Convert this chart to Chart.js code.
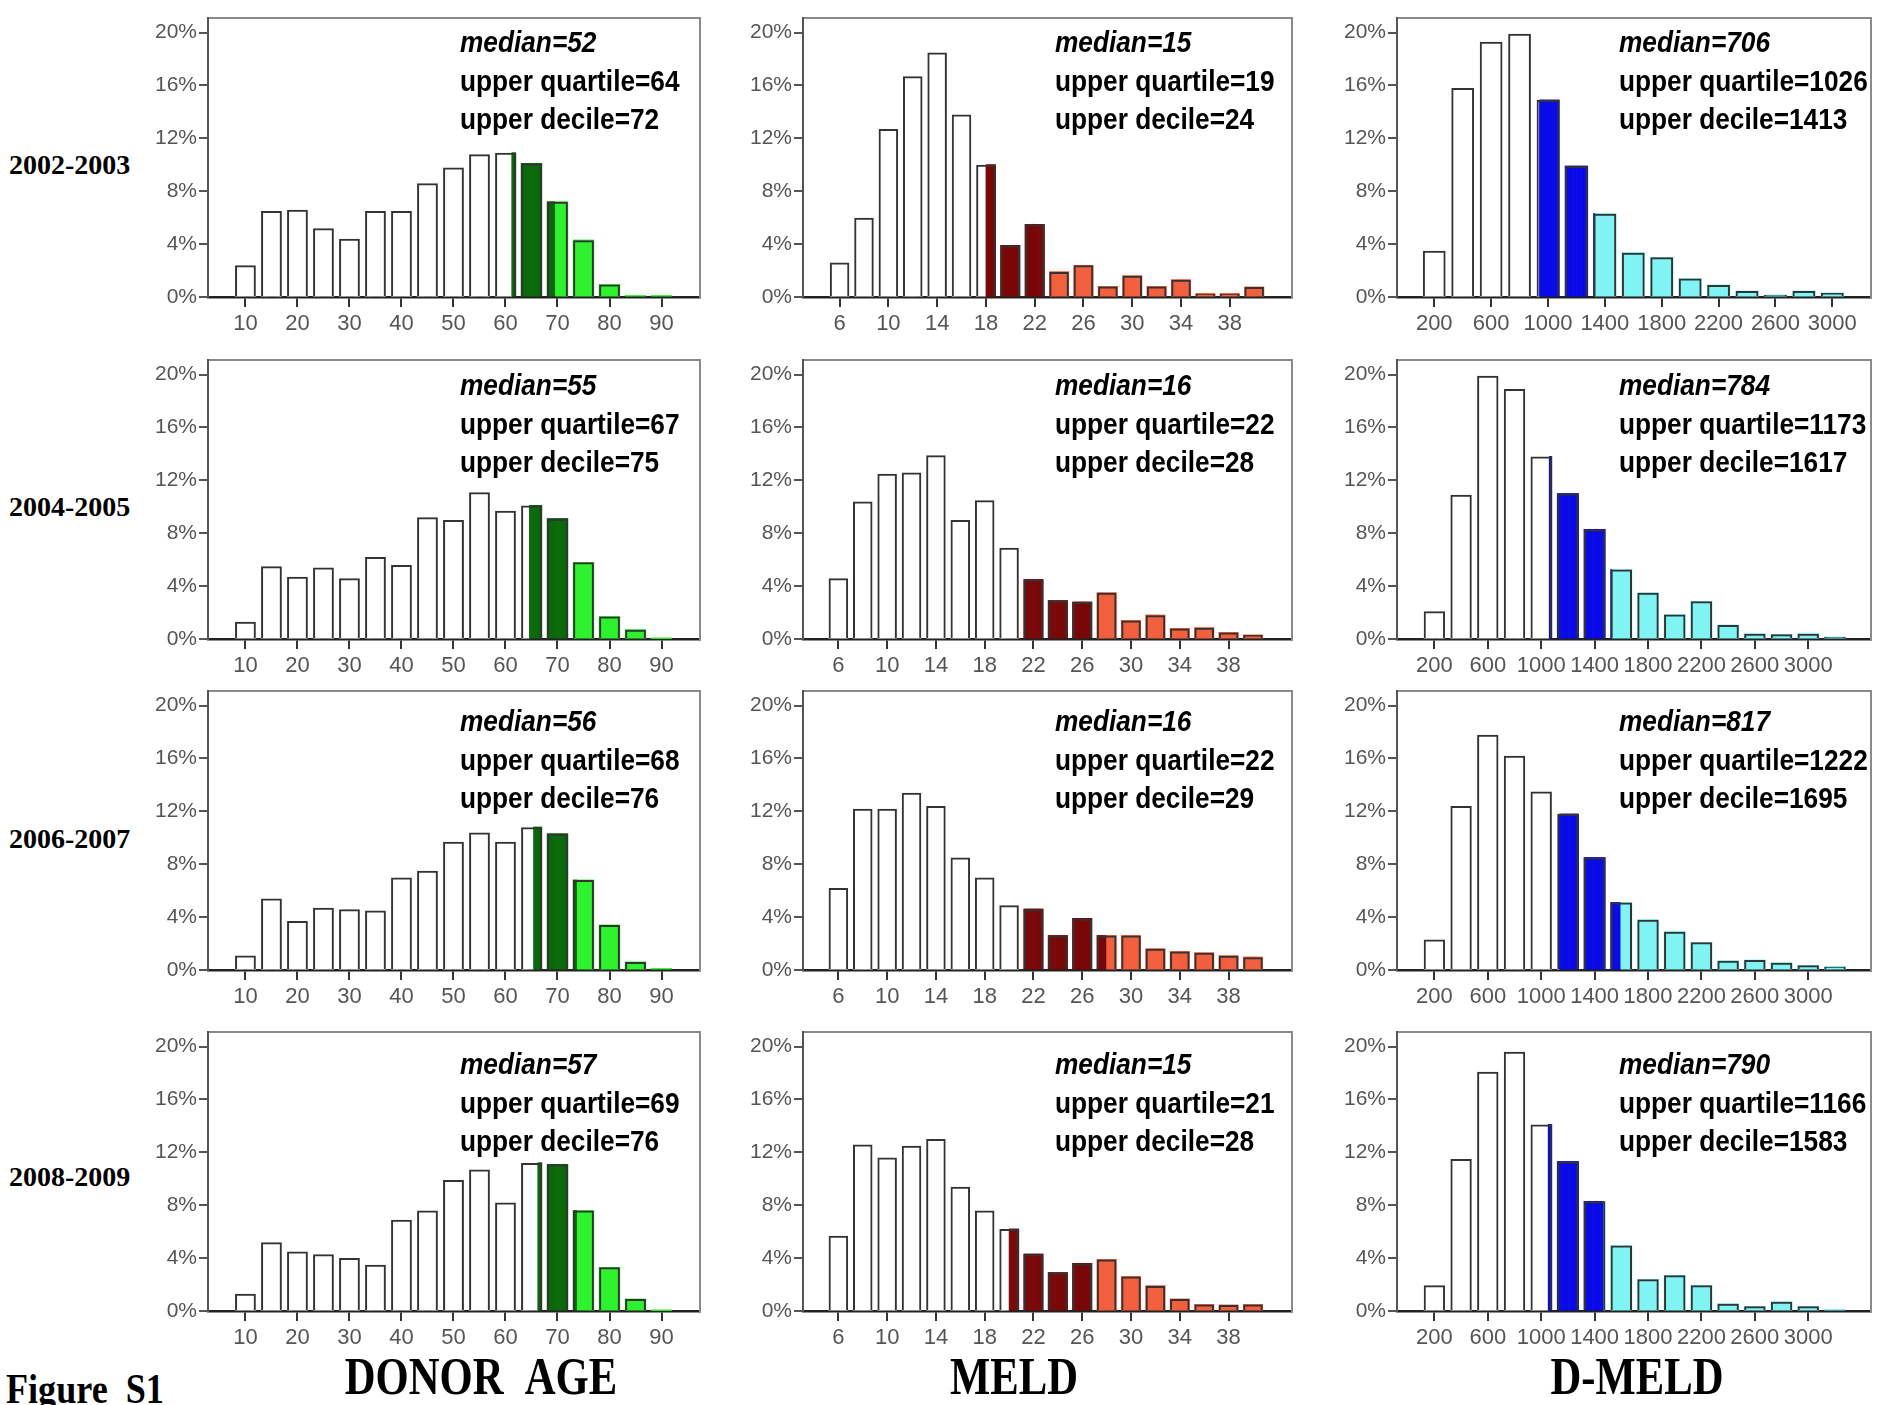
<!DOCTYPE html>
<html>
<head>
<meta charset="utf-8">
<script src="https://cdn.jsdelivr.net/npm/chart.js@4.4.1/dist/chart.umd.min.js"></script>
<style>
html,body{margin:0;padding:0;background:#fff;overflow:hidden;}
#fig{position:relative;width:1891px;height:1405px;background:#fff;overflow:hidden;}
.panel{position:absolute;}
.panel canvas{display:block;}
.ann{position:absolute;font-family:"Liberation Sans",Arial,sans-serif;font-weight:bold;font-size:30px;line-height:38.6px;color:#000;transform:scaleX(0.875);transform-origin:0 0;white-space:nowrap;}
.ann .m{font-style:italic;}
.rowlab{position:absolute;left:9px;font-family:"Liberation Serif","Times New Roman",serif;font-weight:bold;font-size:28px;line-height:28px;color:#000;white-space:nowrap;transform:translateY(-50%);}
.coltitle{position:absolute;font-family:"Liberation Serif","Times New Roman",serif;font-weight:bold;font-size:52px;line-height:52px;color:#000;white-space:nowrap;transform:translate(-50%,-50%) scaleX(0.82);}
.figlab{position:absolute;left:6px;font-family:"Liberation Serif","Times New Roman",serif;font-weight:bold;font-size:42px;line-height:42px;color:#000;white-space:nowrap;transform:translateY(-50%) scaleX(0.86);transform-origin:0 50%;}
</style>
</head>
<body>
<div id="fig"></div>
<script>
// ---------- data ----------
const YEARS = ['2002-2003', '2004-2005', '2006-2007', '2008-2009'];
const COLUMN_TITLES = ['DONOR\u00a0\u00a0AGE', 'MELD', 'D-MELD'];
const Y_TICKS = [0, 4, 8, 12, 16, 20];

// Donor age (bins of 5 years)
const AGE_BINS = [10, 15, 20, 25, 30, 35, 40, 45, 50, 55, 60, 65, 70, 75, 80, 85, 90];
const AGE_TICKS = [10, 20, 30, 40, 50, 60, 70, 80, 90];
const AGE_2002 = [2.4, 6.5, 6.6, 5.2, 4.4, 6.5, 6.5, 8.6, 9.8, 10.8, 10.9, 10.1, 7.2, 4.3, 0.95, 0.1, 0.1];
const AGE_2004 = [1.3, 5.5, 4.7, 5.4, 4.6, 6.2, 5.6, 9.2, 9.0, 11.1, 9.7, 10.1, 9.1, 5.8, 1.7, 0.7, 0.05];
const AGE_2006 = [1.1, 5.4, 3.7, 4.7, 4.6, 4.5, 7.0, 7.5, 9.7, 10.4, 9.7, 10.8, 10.3, 6.8, 3.4, 0.6, 0.1];
const AGE_2008 = [1.3, 5.2, 4.5, 4.3, 4.0, 3.5, 6.9, 7.6, 9.9, 10.7, 8.2, 11.2, 11.1, 7.6, 3.3, 0.9, 0.05];
// [median, upper quartile, upper decile]
const AGE_STATS = [[52, 64, 72], [55, 67, 75], [56, 68, 76], [57, 69, 76]];

// MELD (bins of 2 points)
const MELD_BINS = [6, 8, 10, 12, 14, 16, 18, 20, 22, 24, 26, 28, 30, 32, 34, 36, 38, 40];
const MELD_TICKS = [6, 10, 14, 18, 22, 26, 30, 34, 38];
const MELD_2002 = [2.6, 6.0, 12.7, 16.7, 18.5, 13.8, 10.0, 3.9, 5.5, 1.9, 2.4, 0.8, 1.6, 0.8, 1.3, 0.25, 0.25, 0.75];
const MELD_2004 = [4.6, 10.4, 12.5, 12.6, 13.9, 9.0, 10.5, 6.9, 4.5, 2.9, 2.8, 3.5, 1.4, 1.8, 0.8, 0.85, 0.5, 0.3];
const MELD_2006 = [6.2, 12.2, 12.2, 13.4, 12.4, 8.5, 7.0, 4.9, 4.6, 2.6, 3.9, 2.6, 2.6, 1.6, 1.4, 1.3, 1.07, 0.97];
const MELD_2008 = [5.7, 12.6, 11.6, 12.5, 13.0, 9.4, 7.6, 6.2, 4.3, 2.9, 3.6, 3.9, 2.6, 1.9, 0.9, 0.5, 0.45, 0.5];
const MELD_STATS = [[15, 19, 24], [16, 22, 28], [16, 22, 29], [15, 21, 28]];

// D-MELD (bins of 200)
const DMELD_BINS_2002 = [200, 400, 600, 800, 1000, 1200, 1400, 1600, 1800, 2000, 2200, 2400, 2600, 2800, 3000];
const DMELD_BINS = [200, 400, 600, 800, 1000, 1200, 1400, 1600, 1800, 2000, 2200, 2400, 2600, 2800, 3000, 3200];
const DMELD_TICKS = [200, 600, 1000, 1400, 1800, 2200, 2600, 3000];
const DMELD_2002 = [3.5, 15.8, 19.3, 19.9, 14.9, 9.9, 6.3, 3.35, 3.0, 1.4, 0.9, 0.45, 0.15, 0.45, 0.3];
const DMELD_2004 = [2.1, 10.9, 19.9, 18.9, 13.8, 11.0, 8.3, 5.25, 3.5, 1.85, 2.85, 1.05, 0.4, 0.35, 0.4, 0.15];
const DMELD_2006 = [2.3, 12.4, 17.8, 16.2, 13.5, 11.8, 8.5, 5.1, 3.8, 2.9, 2.1, 0.7, 0.75, 0.55, 0.35, 0.25];
const DMELD_2008 = [1.95, 11.5, 18.1, 19.6, 14.1, 11.3, 8.3, 4.95, 2.4, 2.7, 1.95, 0.55, 0.35, 0.7, 0.35, 0.1];
const DMELD_STATS = [[706, 1026, 1413], [784, 1173, 1617], [817, 1222, 1695], [790, 1166, 1583]];

// ---------- layout / style ----------
const COL_LEFT = [208, 803, 1397];
const COL_W = [492, 489, 474];
const ROW_TOP = [18, 360, 691, 1032];
const FRAME_H = 279;
const AXIS_W = 70, AXIS_H = 50, PAD_TOP = 16, PAD_RIGHT = 12;
const ANN_LEFT = [460, 1055, 1619];
const ANN_TOP = [23, 366, 702, 1045];
const ROW_LABEL_Y = [165, 507, 839, 1177];
const TITLE_X = [481, 1014, 1637];
const TITLE_Y = 1377;

const COLUMNS = [
  {bins: [AGE_BINS, AGE_BINS, AGE_BINS, AGE_BINS], values: [AGE_2002, AGE_2004, AGE_2006, AGE_2008],
   stats: AGE_STATS, width: 5, ticks: AGE_TICKS, range: [[2.8, 97.4], [2.8, 97.4], [2.8, 97.4], [2.8, 97.4]],
   dark: '#0b6a0b', light: '#2ef22e'},
  {bins: [MELD_BINS, MELD_BINS, MELD_BINS, MELD_BINS], values: [MELD_2002, MELD_2004, MELD_2006, MELD_2008],
   stats: MELD_STATS, width: 2, ticks: MELD_TICKS, range: [[3.0, 43.1], [3.1, 43.2], [3.1, 43.2], [3.1, 43.2]],
   dark: '#7a0808', light: '#f2603e'},
  {bins: [DMELD_BINS_2002, DMELD_BINS, DMELD_BINS, DMELD_BINS], values: [DMELD_2002, DMELD_2004, DMELD_2006, DMELD_2008],
   stats: DMELD_STATS, width: 200, ticks: DMELD_TICKS, range: [[-62, 3272], [-80, 3470], [-80, 3470], [-80, 3470]],
   dark: '#0a0ae8', light: '#80f4f4'}
];

const fig = document.getElementById('fig');
const SUB = 40;

function makePanel(col, row) {
  const C = COLUMNS[col];
  const bins = C.bins[row], vals = C.values[row], w = C.width;
  const [, uq, ud] = C.stats[row];
  const [xmin, xmax] = C.range[row];

  const div = document.createElement('div');
  div.className = 'panel';
  const W = AXIS_W + COL_W[col] + PAD_RIGHT;
  const H = PAD_TOP + FRAME_H + AXIS_H;
  div.style.left = (COL_LEFT[col] - AXIS_W) + 'px';
  div.style.top = (ROW_TOP[row] - PAD_TOP) + 'px';
  div.style.width = W + 'px';
  div.style.height = H + 'px';
  const cv = document.createElement('canvas');
  div.appendChild(cv);
  fig.appendChild(div);

  // outline bars (one per bin)
  const outline = bins.map((b, i) => ({x: b, y: vals[i]}));
  // fill strips: each bin split into thin strips coloured by the value they represent
  const fills = [];
  bins.forEach((b, i) => {
    for (let k = 0; k < SUB; k++) {
      const v = b + ((k + 0.5) / SUB) * w;
      fills.push({x: b + (k - (SUB - 1) / 2) * (0.8 * w / SUB), y: vals[i], v: v});
    }
  });
  const colorFor = v => v >= ud ? C.light : (v >= uq ? C.dark : '#ffffff');

  new Chart(cv, {
    type: 'bar',
    data: {
      datasets: [
        {data: outline, xAxisID: 'x', yAxisID: 'y', backgroundColor: 'rgba(0,0,0,0)',
         borderColor: '#333333', borderWidth: 2, borderSkipped: 'bottom',
         barPercentage: 0.8, categoryPercentage: 1, grouped: false, order: 0},
        {data: fills, xAxisID: 'xs', yAxisID: 'y',
         backgroundColor: ctx => colorFor(ctx.raw ? ctx.raw.v : 0),
         borderWidth: 0, barPercentage: 1, categoryPercentage: 1, grouped: false, order: 1}
      ]
    },
    options: {
      responsive: true, maintainAspectRatio: false, animation: false,
      devicePixelRatio: 1,
      layout: {padding: {top: PAD_TOP, right: PAD_RIGHT, left: 0, bottom: 0}},
      plugins: {legend: {display: false}, tooltip: {enabled: false}, title: {display: false}},
      scales: {
        x: {
          type: 'linear', position: 'bottom', min: xmin, max: xmax, offset: false,
          afterBuildTicks: s => { s.ticks = C.ticks.map(v => ({value: v})); },
          ticks: {autoSkip: false, maxRotation: 0, color: '#555', font: {family: 'Liberation Sans', size: 22}, padding: 4,
                  callback: v => String(v)},
          grid: {display: true, offset: false, drawOnChartArea: false, drawTicks: true, tickLength: 10, color: '#333', lineWidth: 2},
          border: {display: true, color: '#222', width: 2.5},
          afterFit: s => { s.height = AXIS_H; }
        },
        xs: {
          type: 'linear', min: xmin, max: xmax, display: false, offset: false, grid: {offset: false},
          afterBuildTicks: s => { s.ticks = []; }
        },
        xTop: {
          type: 'linear', position: 'top', min: xmin, max: xmax, display: true, offset: false,
          ticks: {display: false}, grid: {display: false, drawTicks: false, offset: false},
          border: {display: true, color: '#8a8a8a', width: 2},
          afterFit: s => { s.height = 0; }
        },
        y: {
          type: 'linear', position: 'left', min: 0, max: 21.1,
          afterBuildTicks: s => { s.ticks = Y_TICKS.map(v => ({value: v})); },
          ticks: {color: '#555', font: {family: 'Liberation Sans', size: 21}, padding: 2, callback: v => v + '%'},
          grid: {display: true, drawOnChartArea: false, drawTicks: true, tickLength: 9, color: '#555', lineWidth: 2},
          border: {display: true, color: '#555', width: 2},
          afterFit: s => { s.width = AXIS_W; }
        },
        yRight: {
          type: 'linear', position: 'right', min: 0, max: 21.1, display: true,
          ticks: {display: false}, grid: {display: false, drawTicks: false},
          border: {display: true, color: '#8a8a8a', width: 2},
          afterFit: s => { s.width = 0; }
        }
      }
    }
  });

  // annotation text
  const [med, q, d] = C.stats[row];
  const ann = document.createElement('div');
  ann.className = 'ann';
  ann.style.left = ANN_LEFT[col] + 'px';
  ann.style.top = ANN_TOP[row] + 'px';
  ann.innerHTML = '<div class="m">median=' + med + '</div><div>upper quartile=' + q + '</div><div>upper decile=' + d + '</div>';
  fig.appendChild(ann);
}

for (let c = 0; c < 3; c++) for (let r = 0; r < 4; r++) makePanel(c, r);

YEARS.forEach((y, r) => {
  const el = document.createElement('div');
  el.className = 'rowlab';
  el.style.top = ROW_LABEL_Y[r] + 'px';
  el.textContent = y;
  fig.appendChild(el);
});
COLUMN_TITLES.forEach((t, c) => {
  const el = document.createElement('div');
  el.className = 'coltitle';
  el.style.left = TITLE_X[c] + 'px';
  el.style.top = TITLE_Y + 'px';
  el.textContent = t;
  fig.appendChild(el);
});
const fl = document.createElement('div');
fl.className = 'figlab';
fl.style.top = '1389px';
fl.textContent = 'Figure\u00a0\u00a0S1';
fig.appendChild(fl);
</script>
</body>
</html>
